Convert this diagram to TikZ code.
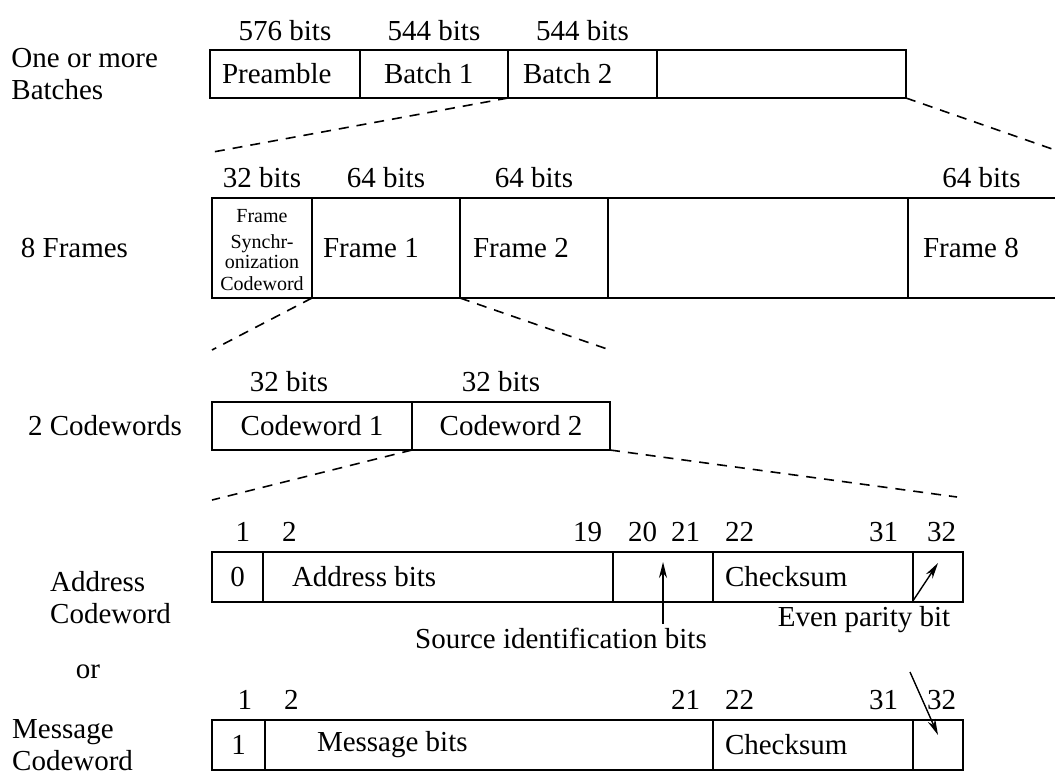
\documentclass[tikz,border=0pt]{standalone}
\usepackage{fontspec}
\setmainfont{Liberation Serif}
\usetikzlibrary{positioning,arrows.meta}

\begin{document}
\begin{tikzpicture}[
    x=0.5pt, y=-0.5pt,
    every node/.style={font=\fontsize{14.5}{16}\selectfont, inner sep=0pt, outer sep=0pt},
    slot/.style={draw, line width=0.9pt, minimum height=#1},
    slot/.default=24pt,
    num/.style={text height=10pt, text depth=0pt},
    small/.style={font=\fontsize{10}{11}\selectfont, align=center},
    zoomline/.style={line width=0.8pt, dash pattern=on 5pt off 4pt},
    pointer/.style={-{Stealth[length=8pt,width=4pt]}, line width=0.7pt}
]

% Marco
\useasboundingbox (0,0) rectangle (1055,778);

% Fila 1: lotes
\node[slot=24pt, minimum width=75pt, anchor=north west] (pre) at (210,50) {};
\node[slot=24pt, minimum width=74pt, right=0pt of pre] (bat1) {};
\node[slot=24pt, minimum width=74.5pt, right=0pt of bat1] (bat2) {};
\node[slot=24pt, minimum width=124.5pt, right=0pt of bat2] (batn) {};
\node[right=6pt of pre.west] (tpre) {Preamble};
\node[right=12pt of bat1.west] (tbat1) {Batch 1};
\node[right=7.5pt of bat2.west] (tbat2) {Batch 2};
\node[num, above=5pt of pre] (bpre) {576 bits};
\node[num, above=5pt of bat1] (bbat1) {544 bits};
\node[num, above=5pt of bat2] (bbat2) {544 bits};
\node[align=left, left=26pt of pre] (lbatch) {One or more\\Batches};

% Fila 2: tramas
\node[slot=50pt, minimum width=50pt, anchor=north west] (sync) at (212,198) {};
\node[slot=50pt, minimum width=74pt, right=0pt of sync] (frm1) {};
\node[slot=50pt, minimum width=74pt, right=0pt of frm1] (frm2) {};
\node[slot=50pt, minimum width=150pt, right=0pt of frm2] (frmx) {};
\node[minimum height=50pt, minimum width=73.5pt, right=0pt of frmx] (frm8) {};
\draw[line width=0.9pt] (frm8.north west) -- (frm8.north east) (frm8.south west) -- (frm8.south east);
\node[small, yshift=-1pt] (tsync) at (sync) {Frame\\[2pt]Synchr-\\[-1.2pt]onization\\Codeword};
\node[right=5.5pt of frm1.west] (tfrm1) {Frame 1};
\node[right=6.5pt of frm2.west] (tfrm2) {Frame 2};
\node[right=7.5pt of frm8.west] (tfrm8) {Frame 8};
\node[num, above=5.5pt of sync] (bsync) {32 bits};
\node[num, above=5.5pt of frm1] (bfrm1) {64 bits};
\node[num, above=5.5pt of frm2] (bfrm2) {64 bits};
\node[num, above=5.5pt of frm8] (bfrm8) {64 bits};
\node[left=42pt of sync] (lframe) {8 Frames};

% Fila 3: palabras
\node[slot=24pt, minimum width=100pt, anchor=north west] (cw1) at (212,402) {Codeword 1};
\node[slot=24pt, minimum width=99pt, right=0pt of cw1] (cw2) {Codeword 2};
\node[num, above=5.5pt of cw1, xshift=-11.5pt] (bcw1) {32 bits};
\node[num, above=5.5pt of cw2, xshift=-5pt] (bcw2) {32 bits};
\node[left=15pt of cw1] (lcw) {2 Codewords};

% Fila 4: palabra de direccion
\node[slot=25pt, minimum width=25.5pt, anchor=north west] (a1) at (212,552) {0};
\node[slot=25pt, minimum width=175pt, right=0pt of a1] (a2) {};
\node[slot=25pt, minimum width=50pt, right=0pt of a2] (a3) {};
\node[slot=25pt, minimum width=100pt, right=0pt of a3] (a4) {};
\node[slot=25pt, minimum width=25pt, right=0pt of a4] (a5) {};
\node[right=14.5pt of a2.west] (ta2) {Address bits};
\node[right=6pt of a4.west] (ta4) {Checksum};
\node[num, above left=5.5pt and 6.5pt of a1.north east] (na1) {1};
\node[num, above right=5.5pt and 9.5pt of a2.north west] (na2) {2};
\node[num, above left=5.5pt and 5.5pt of a2.north east] (na19) {19};
\node[num, above right=5.5pt and 7.5pt of a3.north west] (na20) {20};
\node[num, above left=5.5pt and 6.5pt of a3.north east] (na21) {21};
\node[num, above right=5.5pt and 6pt of a4.north west] (na22) {22};
\node[num, above left=5.5pt and 7.5pt of a4.north east] (na31) {31};
\node[num, above right=5.5pt and 7pt of a5.north west] (na32) {32};
\node[align=left, left=20.5pt of a1, yshift=-10.5pt] (laddr) {Address\\Codeword};

% Fila 5: palabra de mensaje
\node[slot=25pt, minimum width=26.5pt, anchor=north west] (m1) at (212,720) {1};
\node[slot=25pt, minimum width=224pt, right=0pt of m1] (m2) {};
\node[slot=25pt, minimum width=100pt, right=0pt of m2] (m3) {};
\node[slot=25pt, minimum width=25pt, right=0pt of m3] (m4) {};
\node[right=26pt of m2.west] (tm2) {Message bits};
\node[right=6pt of m3.west] (tm3) {Checksum};
\node[num, above left=5.5pt and 6.5pt of m1.north east] (nm1) {1};
\node[num, above right=5.5pt and 9.5pt of m2.north west] (nm2) {2};
\node[num, above left=5.5pt and 6.5pt of m2.north east] (nm21) {21};
\node[num, above right=5.5pt and 6pt of m3.north west] (nm22) {22};
\node[num, above left=5.5pt and 7.5pt of m3.north east] (nm31) {31};
\node[num, above right=5.5pt and 7pt of m4.north west] (nm32) {32};
\node[align=left, left=39.5pt of m1] (lmsg) {Message\\Codeword};
\node (lor) at (88,672) {or};

% Notas y flechas
\node (src) at (561,638) {Source identification bits};
\node (par) at (864,620) {Even parity bit};
\coordinate (stop) at ([yshift=2pt]src.north);
\coordinate (ptop) at ([yshift=3pt]par.north);
\coordinate (ptail) at (910,672);
\draw[pointer] (stop -| a3.center) -- ([yshift=-5pt]a3.north);
\draw[pointer] (ptop -| a5.west) -- ([yshift=7pt]a5.center);
\draw[pointer] (ptail) -- ([yshift=5pt]m4.center);

% Lineas de ampliacion
\coordinate (z1a) at (213,152);
\coordinate (z1b) at (1055,150);
\coordinate (z2a) at (212,350);
\coordinate (z2b) at (610,350);
\coordinate (z3a) at (212,500);
\coordinate (z3b) at (957,497);
\draw[zoomline] (bat1.south east) -- (z1a);
\draw[zoomline] (batn.south east) -- (z1b);
\draw[zoomline] (sync.south east) -- (z2a);
\draw[zoomline] (frm1.south east) -- (z2b);
\draw[zoomline] (cw1.south east) -- (z3a);
\draw[zoomline] (cw2.south east) -- (z3b);

\end{tikzpicture}
\end{document}
